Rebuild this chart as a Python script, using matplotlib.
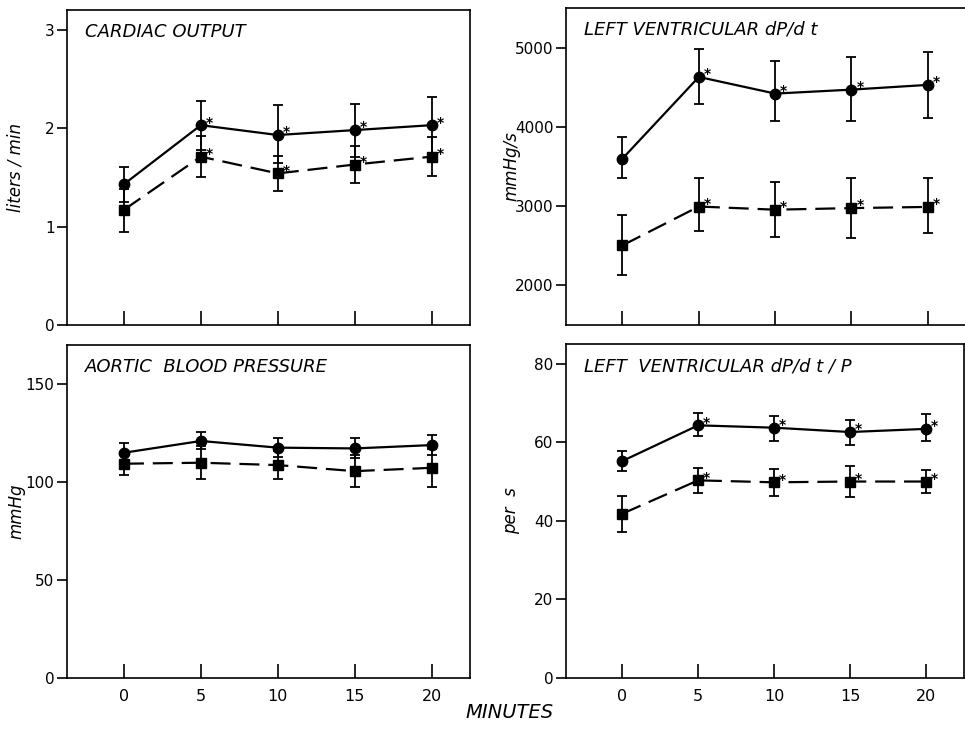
import matplotlib.pyplot as plt

plt.rcParams['font.family'] = ['DejaVu Sans']

minutes = [0, 5, 10, 15, 20]
minute_labels = ["0", "5", "10", "15", "20"]

# cardiac output (liters/min)
co_circle = [1.43, 2.03, 1.93, 1.98, 2.03]
co_circle_lo = [1.25, 1.78, 1.65, 1.71, 1.74]
co_circle_hi = [1.60, 2.28, 2.23, 2.25, 2.32]
co_square = [1.17, 1.71, 1.54, 1.63, 1.71]
co_square_lo = [0.94, 1.50, 1.36, 1.44, 1.51]
co_square_hi = [1.38, 1.92, 1.72, 1.82, 1.91]

# left ventricular dP/dt (mmHg/s)
dp_circle = [3600, 4630, 4420, 4470, 4530]
dp_circle_lo = [3350, 4290, 4075, 4070, 4110]
dp_circle_hi = [3870, 4980, 4830, 4885, 4950]
dp_square = [2505, 2995, 2955, 2975, 2990]
dp_square_lo = [2127, 2683, 2615, 2602, 2658]
dp_square_hi = [2882, 3353, 3303, 3353, 3353]

# aortic blood pressure (mmHg)
bp_circle = [115.0, 121.0, 117.6, 117.2, 118.9]
bp_circle_lo = [109.9, 116.7, 112.8, 112.5, 114.0]
bp_circle_hi = [120.1, 125.6, 122.7, 122.3, 123.9]
bp_square = [109.4, 109.9, 108.7, 105.6, 107.3]
bp_square_lo = [103.4, 101.4, 101.7, 97.5, 97.5]
bp_square_hi = [115.4, 118.4, 115.7, 113.7, 117.1]

# left ventricular dP/dt/P (per s)
dpp_circle = [55.2, 64.3, 63.7, 62.6, 63.4]
dpp_circle_lo = [52.7, 61.5, 60.4, 59.2, 60.3]
dpp_circle_hi = [57.7, 67.5, 66.6, 65.6, 67.1]
dpp_square = [41.8, 50.3, 49.8, 50.0, 50.0]
dpp_square_lo = [37.1, 47.2, 46.4, 46.1, 47.1]
dpp_square_hi = [46.2, 53.5, 53.2, 54.0, 53.0]

panels = [
    ("CARDIAC OUTPUT", "liters / min", (0, 3.2), [0, 1, 2, 3], ["0", "1", "2", "3"],
     co_circle, co_circle_lo, co_circle_hi, co_square, co_square_lo, co_square_hi, True),
    ("LEFT VENTRICULAR dP/d t", "mmHg/s", (1500, 5500), [2000, 3000, 4000, 5000],
     ["2000", "3000", "4000", "5000"],
     dp_circle, dp_circle_lo, dp_circle_hi, dp_square, dp_square_lo, dp_square_hi, True),
    ("AORTIC  BLOOD PRESSURE", "mmHg", (0, 170), [0, 50, 100, 150], ["0", "50", "100", "150"],
     bp_circle, bp_circle_lo, bp_circle_hi, bp_square, bp_square_lo, bp_square_hi, False),
    ("LEFT  VENTRICULAR dP/d t / P", "per  s", (0, 85), [0, 20, 40, 60, 80],
     ["0", "20", "40", "60", "80"],
     dpp_circle, dpp_circle_lo, dpp_circle_hi, dpp_square, dpp_square_lo, dpp_square_hi, True),
]

# axes rectangles in pixels (left, top, right, bottom) of a 965x729 canvas
boxes = [(67, 10, 470, 325), (566, 8, 966, 325), (67, 345, 470, 678), (566, 344, 964, 678)]
label_x = [25, 520, 25, 520]  # right edge of the rotated y labels
W, H = 965, 729

fig = plt.figure(figsize=(9.65, 7.29), dpi=100)

for i, (title, ylabel, ylim, yt, ytl, c, clo, chi, s, slo, shi, stars) in enumerate(panels):
    l, t, r, b = boxes[i]
    ax = fig.add_axes([l / W, 1 - b / H, (r - l) / W, (b - t) / H])
    ax.set_xlim(-3.7, 22.5)
    ax.set_ylim(*ylim)

    cerr = [[v - lo for v, lo in zip(c, clo)], [hi - v for v, hi in zip(c, chi)]]
    serr = [[v - lo for v, lo in zip(s, slo)], [hi - v for v, hi in zip(s, shi)]]
    ax.errorbar(minutes, c, yerr=cerr, color="black", lw=1.6, marker="o", ms=7.5,
                capsize=3.5, elinewidth=1.3, capthick=1.3)
    ax.errorbar(minutes, s, yerr=serr, color="black", lw=1.6, marker="s", ms=7,
                capsize=3.5, elinewidth=1.3, capthick=1.3, dashes=(9, 4))

    if stars:
        for x, yc, ys in zip(minutes[1:], c[1:], s[1:]):
            ax.annotate("*", (x, yc), xytext=(3.5, -1), textcoords="offset points",
                        fontsize=10, fontweight="bold")
            ax.annotate("*", (x, ys), xytext=(3.5, -1), textcoords="offset points",
                        fontsize=10, fontweight="bold")

    ax.set_yticks(yt)
    ax.set_yticklabels(ytl, fontsize=11)
    ax.set_xticks(minutes)
    ax.tick_params(axis="y", direction="out", length=7, width=1.2, pad=2)
    ax.tick_params(axis="x", direction="in", length=10, width=1.2, pad=8)
    if i >= 2:
        ax.set_xticklabels(minute_labels, fontsize=11.5)
    else:
        ax.set_xticklabels([])
    for sp in ax.spines.values():
        sp.set_linewidth(1.2)

    ax.text(0.045, 0.96, title, transform=ax.transAxes, fontsize=13, style="italic",
            ha="left", va="top")
    ax.set_ylabel(ylabel, fontsize=12, style="italic")
    ax.yaxis.set_label_coords((label_x[i] - l) / (r - l), 0.5)

fig.text(510 / W, 1 - 713 / H, "MINUTES", fontsize=14, style="italic", ha="center", va="center")

plt.savefig("out.png", dpi=100)
